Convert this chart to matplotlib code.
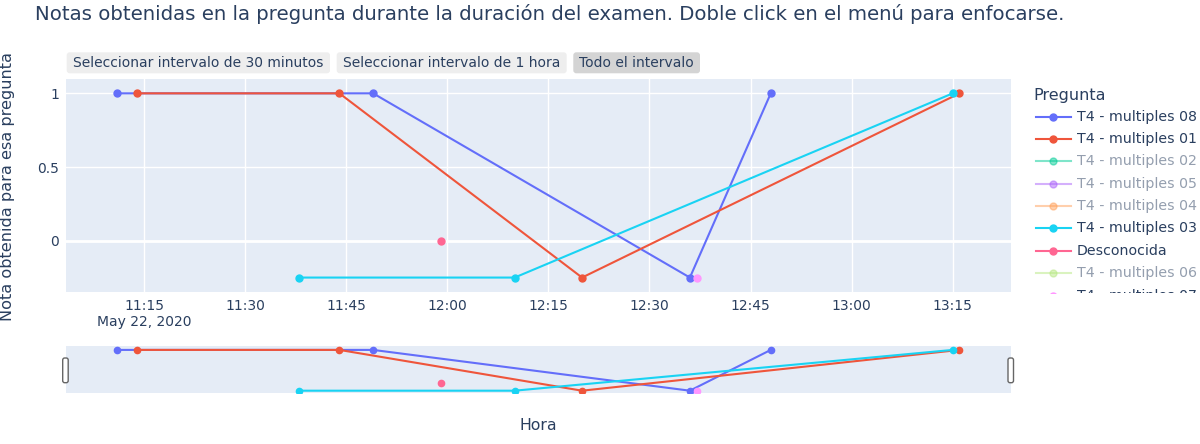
import numpy as np
import matplotlib.pyplot as plt
import matplotlib.dates as mdates
from matplotlib.patches import FancyBboxPatch
from matplotlib.ticker import FuncFormatter

plt.rcParams['font.family'] = 'DejaVu Sans'

dia = '2020-05-22T'

# series que se ven en el grafico
horas_08 = ['11:11', '11:49', '12:36', '12:48']
notas_08 = [1, 1, -0.25, 1]
horas_01 = ['11:14', '11:44', '12:20', '13:16']
notas_01 = [1, 1, -0.25, 1]
horas_03 = ['11:38', '12:10', '13:15']
notas_03 = [-0.25, -0.25, 1]
horas_desc = ['11:59']
notas_desc = [0]
horas_07 = ['12:37']
notas_07 = [-0.25]

# orden de la leyenda (las ocultas no tienen datos visibles)
preguntas = ['T4 - multiples 08', 'T4 - multiples 01', 'T4 - multiples 02', 'T4 - multiples 05',
             'T4 - multiples 04', 'T4 - multiples 03', 'Desconocida', 'T4 - multiples 06', 'T4 - multiples 07']
colores = ['#636EFA', '#EF553B', '#00CC96', '#AB63FA', '#FFA15A', '#19D3F3', '#FF6692', '#B6E880', '#FF97FF']
visible = [True, True, False, False, False, True, True, False, True]
horas = [horas_08, horas_01, [], [], [], horas_03, horas_desc, [], horas_07]
notas = [notas_08, notas_01, [], [], [], notas_03, notas_desc, [], notas_07]

botones = ['Seleccionar intervalo de 30 minutos', 'Seleccionar intervalo de 1 hora', 'Todo el intervalo']

texto = '#2a3f5f'
fondo = '#E5ECF6'

x_min = np.datetime64(dia + '11:03:26')
x_max = np.datetime64(dia + '13:23:36')

fig = plt.figure(figsize=(12, 4.44), dpi=100)
W, H = 1200, 444

ax = fig.add_axes([66 / W, 1 - 292.3 / H, 944.7 / W, 213.7 / H])
slider = fig.add_axes([66 / W, 1 - 393.3 / H, 944.7 / W, 47.3 / H])

for i in range(len(preguntas)):
    if not visible[i] or len(horas[i]) == 0:
        continue
    t = np.array([dia + h for h in horas[i]], dtype='datetime64[s]')
    ax.plot(t, notas[i], color=colores[i], lw=1.5, marker='o', markersize=5, zorder=3 + i * 0.1)
    slider.plot(t, notas[i], color=colores[i], lw=1.5, marker='o', markersize=4.5, zorder=3 + i * 0.1)

ax.set_facecolor(fondo)
ax.set_xlim(x_min, x_max)
ax.set_ylim(-0.35, 1.1)
ax.set_yticks([0, 0.5, 1])
ax.set_yticklabels(['0', '0.5', '1'])
ax.xaxis.set_major_locator(mdates.MinuteLocator(byminute=[0, 15, 30, 45]))
ax.xaxis.set_major_formatter(FuncFormatter(
    lambda v, pos: mdates.num2date(v).strftime('%H:%M') + ('\nMay 22, 2020' if pos == 0 else '')))
ax.grid(True, color='white', lw=1)
ax.axhline(0, color='white', lw=2, zorder=1)
ax.set_axisbelow(True)
ax.tick_params(length=0, labelsize=10, labelcolor=texto, pad=5)
for lbl in ax.get_xticklabels():
    lbl.set_multialignment('center')
for s in ax.spines.values():
    s.set_visible(False)

slider.set_facecolor(fondo)
slider.set_xlim(x_min, x_max)
slider.set_ylim(-0.33, 1.12)
slider.set_xticks([])
slider.set_yticks([])
for s in slider.spines.values():
    s.set_visible(False)

# leyenda dibujada a mano (se corta abajo como en la original)
leg = fig.add_axes([1020 / W, 1 - 293 / H, 180 / W, 213 / H])
leg.set_xlim(0, 180)
leg.set_ylim(213, 0)
leg.axis('off')
leg.text(13, 15, 'Pregunta', fontsize=11.5, color=texto, va='center', clip_on=True)
for i, nombre in enumerate(preguntas):
    y = 36.7 + i * 22.35
    alpha = 1 if visible[i] else 0.5
    leg.plot([16, 50.7], [y, y], color=colores[i], lw=1.5, alpha=alpha)
    leg.plot([32.7], [y], 'o', color=colores[i], markersize=5, alpha=alpha)
    leg.text(56.7, y, nombre, fontsize=10.2, color=texto, alpha=alpha, va='center', clip_on=True)

# capa para titulo, botones y asas del deslizador
ov = fig.add_axes([0, 0, 1, 1])
ov.set_xlim(0, W)
ov.set_ylim(H, 0)
ov.axis('off')

ov.text(35, 20, 'Notas obtenidas en la pregunta durante la duración del examen. Doble click en el menú para enfocarse.',
        fontsize=14.2, color=texto, va='baseline')
ov.text(8, 186, 'Nota obtenida para esa pregunta', fontsize=11.6, color=texto, rotation=90, ha='center', va='center')
ov.text(538, 425, 'Hora', fontsize=11.3, color=texto, ha='center', va='center')

cajas = [(66.7, 330), (336.7, 566.7), (573.3, 700)]
for (x0, x1), b in zip(cajas, botones):
    color = '#d4d4d4' if b == 'Todo el intervalo' else '#eeeeee'
    ov.add_patch(FancyBboxPatch((x0, 52.3), x1 - x0, 21, boxstyle='round,pad=0,rounding_size=3',
                                facecolor=color, edgecolor='none'))
    ov.text((x0 + x1) / 2, 63, b, fontsize=10, color=texto, ha='center', va='center')

for x0 in [62.7, 1008]:
    ov.add_patch(FancyBboxPatch((x0, 358), 5.5, 24.7, boxstyle='round,pad=0,rounding_size=2',
                                facecolor='white', edgecolor='#666666', lw=1))

fig.savefig('out.png', dpi=100)
